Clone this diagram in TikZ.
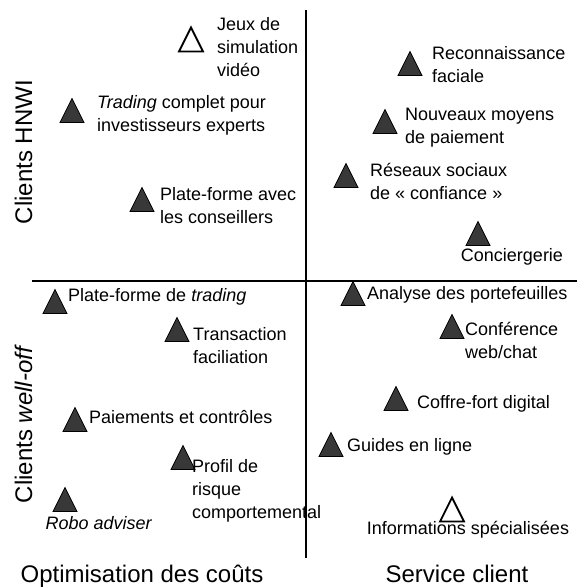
\documentclass[tikz,border=0pt]{standalone}
\usepackage{fontspec}
\setmainfont{Liberation Sans}
\usetikzlibrary{shapes}

\begin{document}
\begin{tikzpicture}[x=1pt,y=-1pt]

\tikzstyle{full_tri} = [isosceles triangle, shape border rotate=90, isosceles triangle stretches,
minimum width=24, minimum height=24, inner sep=0, outer sep=0,
anchor=south, draw=black, line width=0.7, fill=black!78]
\tikzstyle{open_tri} = [full_tri, fill=white, line width=1.8]
\tikzstyle{item_text} = [anchor=base west, align=left, inner sep=0, font=\fontsize{18}{23}\selectfont]
\tikzstyle{axis_text} = [anchor=base, inner sep=0, font=\fontsize{24}{28}\selectfont]

\useasboundingbox (0,0) rectangle (577,587);

\coordinate (axis_top) at (306,10);
\coordinate (axis_bottom) at (306,558);
\coordinate (axis_left) at (32,281);
\coordinate (axis_right) at (577,281);
\draw[line width=1.8] (axis_top) -- (axis_bottom);
\draw[line width=1.8] (axis_left) -- (axis_right);

\node[axis_text, rotate=90] (hnwi) at (32,152) {Clients HNWI};
\node[axis_text, rotate=90] (welloff) at (32,424) {Clients \textit{well-off}};
\node[axis_text] (couts) at (142,582) {Optimisation des coûts};
\node[axis_text] (service) at (457,582) {Service client};


% quadrant haut (base = derniere ligne)
\node[open_tri] (jeux_tri) at (191,51.5) {};
\node[item_text] (jeux_txt) at (217,76) {Jeux de\\simulation\\vidéo};

\node[full_tri] (trading_tri) at (72,122.5) {};
\node[item_text] (trading_txt) at (97,131) {\textit{Trading} complet pour\\investisseurs experts};

\node[full_tri] (conseil_tri) at (142,211.5) {};
\node[item_text] (conseil_txt) at (160,223) {Plate-forme avec\\les conseillers};

\node[full_tri] (faciale_tri) at (410,75.5) {};
\node[item_text] (faciale_txt) at (432,82) {Reconnaissance\\faciale};

\node[full_tri] (paiement_tri) at (385,133.5) {};
\node[item_text] (paiement_txt) at (405,143) {Nouveaux moyens\\de paiement};

\node[full_tri] (reseaux_tri) at (346,187.5) {};
\node[item_text] (reseaux_txt) at (370,199) {Réseaux sociaux\\de « confiance »};

\node[full_tri] (concierge_tri) at (478,245.5) {};
\node[item_text, anchor=base] (concierge_txt) at (512,261) {Conciergerie};


% quadrant bas
\node[full_tri] (plateforme_tri) at (55,313.5) {};
\node[item_text] (plateforme_txt) at (68,301) {Plate-forme de \textit{trading}};

\node[full_tri] (transaction_tri) at (177,341.5) {};
\node[item_text] (transaction_txt) at (193,363) {Transaction\\faciliation};

\node[full_tri] (controle_tri) at (75,431.5) {};
\node[item_text] (controle_txt) at (89,423) {Paiements et contrôles};

\node[full_tri] (profil_tri) at (183,469.5) {};
\node[item_text] (profil_txt) at (192,518) {Profil de\\risque\\comportemental};

\node[full_tri] (robo_tri) at (65,511.5) {};
\node[item_text, anchor=base] (robo_txt) at (99,529) {\textit{Robo adviser}};

\node[full_tri] (analyse_tri) at (353,305.5) {};
\node[item_text] (analyse_txt) at (367,299) {Analyse des portefeuilles};

\node[full_tri] (conf_tri) at (452,338.5) {};
\node[item_text] (conf_txt) at (465,358) {Conférence\\web/chat};

\node[full_tri] (coffre_tri) at (396,410.5) {};
\node[item_text] (coffre_txt) at (417,408) {Coffre-fort digital};

\node[full_tri] (guides_tri) at (331,456.5) {};
\node[item_text] (guides_txt) at (347,451) {Guides en ligne};

\node[open_tri] (info_tri) at (452,521.5) {};
\node[item_text, anchor=base] (info_txt) at (468,534) {Informations spécialisées};

\end{tikzpicture}
\end{document}
